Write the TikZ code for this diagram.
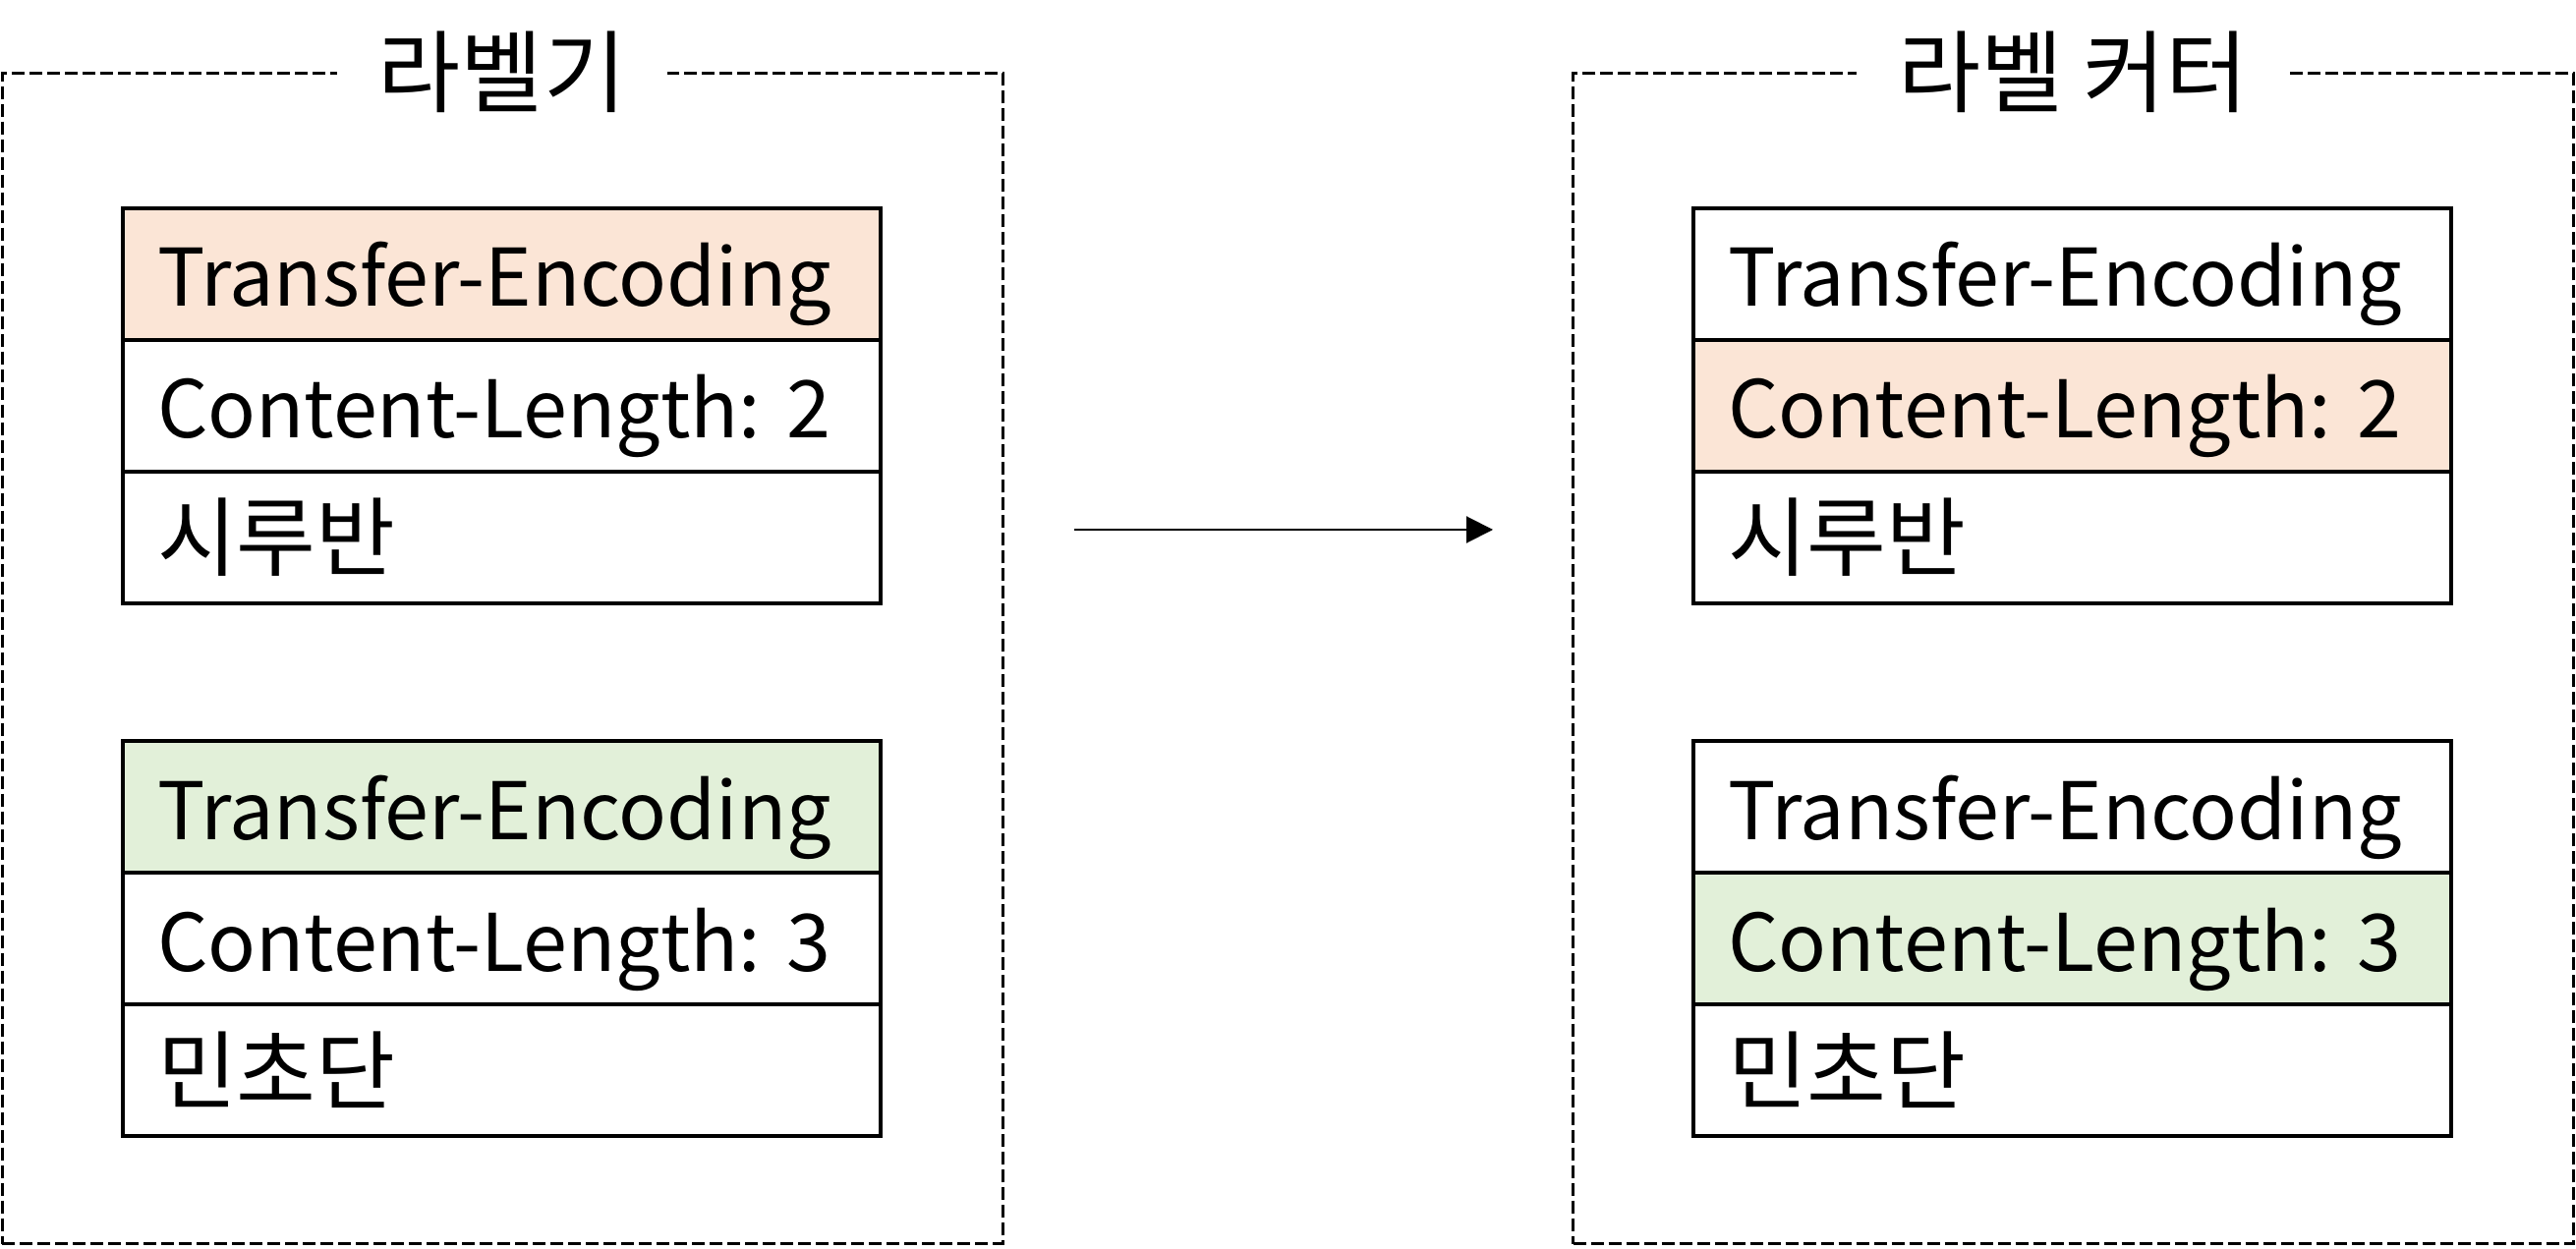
\documentclass[tikz,border=0pt]{standalone}
\usepackage{fontspec}
\setmainfont{Noto Sans CJK KR}
\usetikzlibrary{positioning, arrows.meta}
\definecolor{orng}{HTML}{FBE5D6}
\definecolor{grn}{HTML}{E2F0D9}

\begin{document}
\begin{tikzpicture}
		\tikzset{fld/.style={rectangle, draw=black, line width=0.04cm, outer sep=0pt, minimum width=7.71cm, minimum height=1.34cm, inner xsep=0.35cm, text width=7.01cm, align=left, text height=0.8cm, text depth=0.14cm, font=\frenchspacing\fontsize{23}{28}\selectfont}};
		\tikzset{kfld/.style={fld, font=\fontsize{25}{30}\selectfont}};
		\tikzset{frm/.style={rectangle, draw=black, line width=0.03cm, dash pattern=on 0.13cm off 0.05cm, minimum width=10.18cm, minimum height=11.91cm}};
		\tikzset{ttl/.style={fill=white, inner xsep=0.42cm, font=\fontsize{26}{30}\selectfont}};

		\useasboundingbox (0, 0) rectangle (26.21, -12.71);

		\node[frm] (lfrm) at (5.11, -6.70) {};
		\node[frm] (rfrm) at (21.095, -6.70) {};
		\node[ttl] (lttl) at (lfrm.north) {라벨기};
		\node[ttl] (rttl) at (rfrm.north) {라벨 커터};

		\node[fld, fill=orng] (l1) at (5.105, -2.79) {Transfer-Encoding};
		\node[fld, below=0pt of l1] (l2) {Content-Length: 2};
		\node[kfld, below=0pt of l2] (l3) {시루반};
		\node[fld, fill=grn] (l4) at (5.105, -8.21) {Transfer-Encoding};
		\node[fld, below=0pt of l4] (l5) {Content-Length: 3};
		\node[kfld, below=0pt of l5] (l6) {민초단};

		\node[fld] (r1) at (21.085, -2.79) {Transfer-Encoding};
		\node[fld, fill=orng, below=0pt of r1] (r2) {Content-Length: 2};
		\node[kfld, below=0pt of r2] (r3) {시루반};
		\node[fld] (r4) at (21.085, -8.21) {Transfer-Encoding};
		\node[fld, fill=grn, below=0pt of r4] (r5) {Content-Length: 3};
		\node[kfld, below=0pt of r5] (r6) {민초단};

		\coordinate (ast) at (10.93, -5.39);
		\coordinate (aend) at (15.19, -5.39);
		\draw[line width=0.02cm, -{Triangle[length=0.27cm, width=0.27cm]}] (ast) -- (aend);

	\end{tikzpicture}
\end{document}
